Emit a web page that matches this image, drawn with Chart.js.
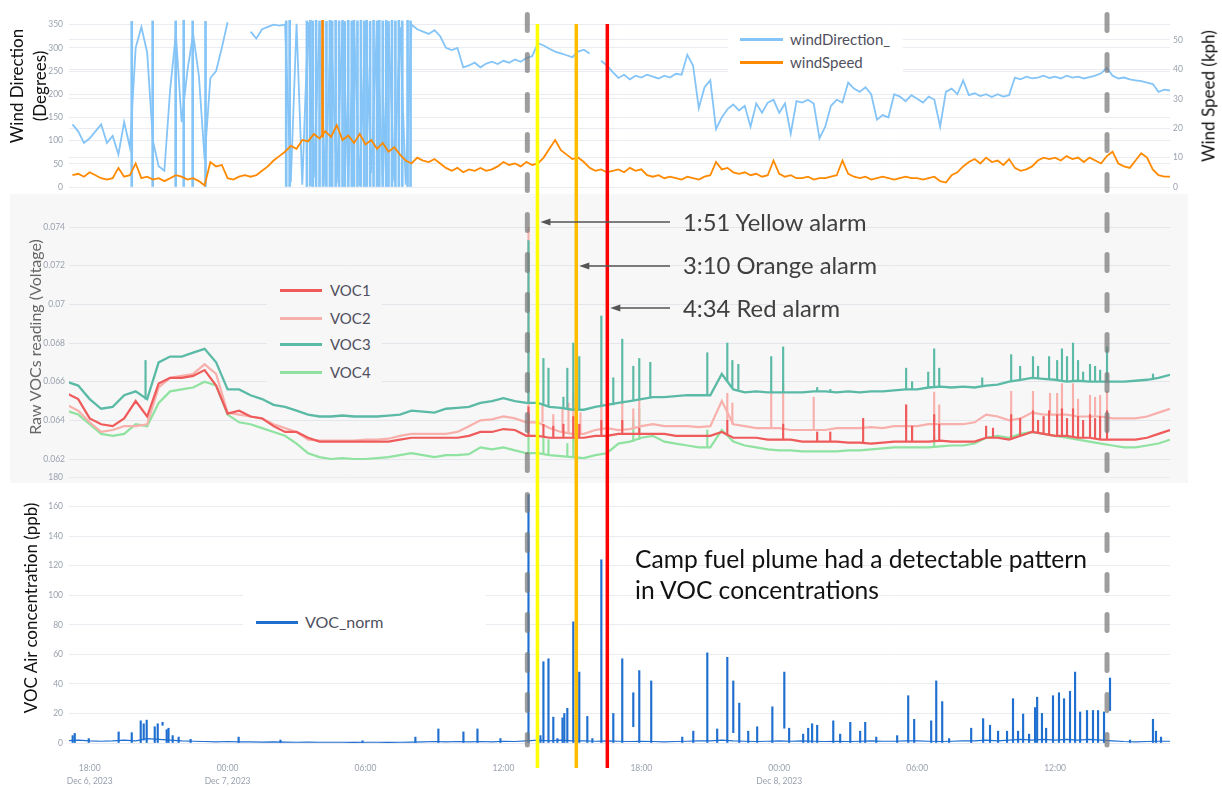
<!DOCTYPE html>
<html><head><meta charset="utf-8">
<script src="https://cdn.jsdelivr.net/npm/chart.js@4.4.1/dist/chart.umd.min.js"></script>
<style>
html,body{margin:0;padding:0;background:#fff;}
#wrap{position:relative;width:1222px;height:788px;overflow:hidden;font-family:Lato,'Open Sans',sans-serif;}
canvas{position:absolute;left:0;top:0;}
.panel{position:absolute;left:10px;top:194px;width:1178px;height:289px;background:#f7f7f8;}
.box{position:absolute;}
.t{position:absolute;white-space:nowrap;line-height:1;}
.rot{transform:translate(-50%,-50%) rotate(-90deg);text-align:center;}
.sw{position:absolute;height:3px;}
.lg{position:absolute;white-space:nowrap;font-size:15px;line-height:18px;color:#50505e;}
.ann{position:absolute;white-space:nowrap;font-size:23.8px;line-height:1;color:#404040;}
</style></head>
<body><div id="wrap">
<div class="panel"></div>
<canvas id="c1" width="1222" height="788"></canvas>
<canvas id="c2" width="1222" height="788"></canvas>
<canvas id="c3" width="1222" height="788"></canvas>

<div class="box" style="left:728px;top:28px;width:175px;height:47px;background:#fff;"></div>
<div class="sw" style="left:740px;top:38px;width:43px;background:#85c4f7;"></div>
<div class="lg" style="left:790px;top:30px;">windDirection_</div>
<div class="sw" style="left:740px;top:61px;width:43px;background:#ff8a00;"></div>
<div class="lg" style="left:790px;top:53px;">windSpeed</div>

<div class="box" style="left:267px;top:280px;width:115px;height:104px;background:#f7f7f8;"></div>
<div class="sw" style="left:280px;top:289px;width:42px;background:#ef5a5a;"></div>
<div class="lg" style="left:330px;top:281px;">VOC1</div>
<div class="sw" style="left:280px;top:317px;width:42px;background:#f7b0ab;"></div>
<div class="lg" style="left:330px;top:309px;">VOC2</div>
<div class="sw" style="left:280px;top:343px;width:42px;background:#5bbaa5;"></div>
<div class="lg" style="left:330px;top:335px;">VOC3</div>
<div class="sw" style="left:280px;top:371px;width:42px;background:#90e2a0;"></div>
<div class="lg" style="left:330px;top:363px;">VOC4</div>

<div class="box" style="left:243px;top:590px;width:243px;height:48px;background:#fff;"></div>
<div class="sw" style="left:256px;top:621px;width:42px;background:#1f6fd0;"></div>
<div class="lg" style="left:305px;top:613px;font-size:16px;">VOC_norm</div>

<div class="t rot" style="left:28px;top:86px;font-size:17px;line-height:23px;color:#111;">Wind Direction<br>(Degrees)</div>
<div class="t rot" style="left:1208px;top:96px;font-size:17px;color:#111;">Wind Speed (kph)</div>
<div class="t rot" style="left:35px;top:337px;font-size:16px;color:#666;">Raw VOCs reading (Voltage)</div>
<div class="t rot" style="left:30px;top:608px;font-size:17px;color:#111;">VOC Air concentration (ppb)</div>

<div class="ann" style="left:683px;top:211px;">1:51 Yellow alarm</div>
<div class="ann" style="left:683px;top:254px;">3:10 Orange alarm</div>
<div class="ann" style="left:683px;top:297px;">4:34 Red alarm</div>
<div class="ann" style="left:635px;top:543px;font-size:24.6px;line-height:31px;color:#111;">Camp fuel plume had a detectable pattern<br>in VOC concentrations</div>
</div>
<script>
// ---------- time axis (hours since Dec 6 2023 00:00) ----------
const X_MIN = 17.1, X_MAX = 65.0;
const TICK_HOURS = [18, 24, 30, 36, 42, 48, 54, 60];
const TICK_LABELS = [['18:00','Dec 6, 2023'], ['00:00','Dec 7, 2023'], '06:00', '12:00', '18:00', ['00:00','Dec 8, 2023'], '06:00', '12:00'];

// ---------- wind (every 15 min from 17:15 Dec 6) ----------
const WIND_START = 17.25, WIND_STEP = 0.25;
const windSpeed = [
 4,4.5,3.5,5,4,3,2.5,3,  6.5,3.5,4,8,3,3.5,2.5,3,  2,3,4,3.5,2.5,3,2,0.5,
 8.5,7,7.5,3,2.5,3.5,4,3.5,  4,5.5,7,9,10.5,12,14,13,  16,15.5,18,16.5,19,17,21,16,
 17.5,15,18,14.5,16,13,15,12,  13.5,11,9,8,10,9,8.5,9.5,  8,6.5,5.5,6.5,5,6,5.5,6.5,
 5.5,6,7,8.5,7.5,8,7,8.5,  7.5,8,10,13,16,12.5,11,9.5,  10,8.5,6.5,5.5,6,5,5.5,6,
 5,6.5,5.5,6,4,3.5,4,3,  3.5,3,2.5,3.5,3,2.5,3.5,4,  8.5,6,6.5,5,4.5,5,4,4.5,
 3.5,4,9,4.5,3.5,4,3,3,  3.5,2.5,3,3,3.5,4,9,4.5,  3.5,3,3.5,2.5,3,3.5,3,2.5,
 3,3.5,3,3,2.5,3,3.5,2,  1.5,4,5,7,8.5,9.5,8,10,  8.5,9,7.5,9.5,6.5,5.5,6,7,
 9,10,9.5,10,9,10.5,9.5,10,  8.5,10,9,8,10.5,12,8,7,  6.5,9,11.5,10,6,4,3.5,3.5
];
const windDirection = [
 135,120,95,105,120,135,95,110,  70,140,85,300,345,290,100,45,  35,210,330,140,250,330,240,60,
 235,250,300,355,null,358,null,335,  320,340,345,350,348,350,10,352,  5,355,20,350,3,354,8,356,
 15,348,2,355,30,352,6,350,  12,345,5,350,340,335,330,338,  325,300,295,300,258,262,268,258,
 266,270,265,272,268,275,270,278,  282,310,305,298,292,288,284,280,  292,296,288,null,272,262,248,235,
 242,232,240,236,242,238,234,240,  236,244,242,285,262,170,215,230,  125,150,168,178,165,175,130,180,
 160,182,188,160,180,115,185,182,  188,180,105,130,175,188,182,225,  212,205,215,200,145,155,150,200,
 195,185,198,190,182,195,188,130,  205,212,200,230,198,202,196,200,  194,200,195,198,236,232,238,234,
 236,240,235,238,234,240,236,238,  234,237,240,245,257,240,234,236,  232,230,228,225,222,205,210,208
];
// direction wrap-arounds 0<->360 : [hour, low, high]
const windDirWraps = [
 [19.83,0,357],[20.74,0,358],[21.74,0,358],[22.09,0,360],[22.48,0,358],[23.04,0,357],
 [26.55,0,358],[26.7,0,360],[27.45,0,358],[27.6,2,360],[27.7,0,358],[27.85,0,360],[28.0,0,358],
 [28.15,0,360],[28.3,0,357],[28.45,0,360],[28.55,0,358],[28.7,0,360],[28.85,0,358],[29.0,0,360],
 [29.1,0,357],[29.25,0,360],[29.4,0,358],[29.5,0,360],[29.65,0,358],[29.8,0,360],[29.95,0,358],
 [30.05,0,360],[30.2,0,357],[30.35,0,360],[30.5,0,358],[30.6,0,360],[30.75,0,358],[30.9,0,360],
 [31.0,0,357],[31.15,0,360],[31.3,0,358],[31.45,0,360],[31.6,0,358],[31.83,0,360],[31.96,0,358]
];
const windSpeedSpikes = [[28.13,17,56.8]];

// ---------- raw VOC voltages (every 30 min from 17:00 Dec 6) ----------
const VOC_START = 17, VOC_STEP = 0.5;
const voc1 = [
 0.0654,0.0651,0.0641,0.0638,0.0637,0.0641,0.0650,0.0642, 0.0659,0.0662,0.0662,0.0663,0.0666,0.0658,0.06435,0.0645,
 0.0642,0.0641,0.0637,0.0634,0.0634,0.0631,0.0629,0.0629, 0.0629,0.0629,0.0629,0.0629,0.0629,0.0630,0.0631,0.0631,
 0.0631,0.0631,0.0631,0.0632,0.0634,0.0634,0.06355,0.0635, 0.0632,0.0632,0.0631,0.0631,0.0631,0.0631,0.0632,0.0632,
 0.0633,0.0633,0.0633,0.0633,0.0633,0.0632,0.0632,0.0632, 0.0632,0.0634,0.0631,0.0631,0.0631,0.0630,0.0630,0.0630,
 0.0629,0.0629,0.0629,0.0629,0.06285,0.06285,0.0628,0.06285, 0.0629,0.0629,0.0629,0.0629,0.06295,0.0629,0.0629,0.0629,
 0.0631,0.0631,0.0630,0.0632,0.0634,0.0633,0.0632,0.0632, 0.0631,0.0631,0.0630,0.0630,0.0630,0.0630,0.0631,0.0633,
 0.0635
];
const voc2 = [
 0.0648,0.0645,0.0639,0.0634,0.0635,0.0637,0.0637,0.0638, 0.0657,0.0662,0.0663,0.0664,0.0669,0.0664,0.0644,0.0643,
 0.0642,0.0641,0.0638,0.0636,0.0634,0.0630,0.06295,0.06295, 0.06295,0.06295,0.0630,0.0630,0.06305,0.0632,0.0633,0.0633,
 0.0633,0.0633,0.0634,0.0637,0.0640,0.06405,0.0642,0.0641, 0.0639,0.0639,0.0636,0.0634,0.0633,0.0633,0.0635,0.0636,
 0.0635,0.06355,0.0637,0.0638,0.0637,0.0637,0.0637,0.06365, 0.0637,0.0650,0.0638,0.0637,0.0636,0.0636,0.0636,0.0635,
 0.0635,0.0635,0.0635,0.0636,0.0636,0.0636,0.06365,0.0636, 0.0637,0.0637,0.0637,0.0638,0.0638,0.0638,0.0638,0.0639,
 0.0643,0.0642,0.0640,0.0641,0.0644,0.0643,0.0643,0.0643, 0.0642,0.0642,0.0642,0.0641,0.0641,0.0641,0.0642,0.0644,
 0.0646
];
const voc3 = [
 0.0660,0.0658,0.0651,0.0646,0.0647,0.0653,0.0655,0.0651, 0.0670,0.0673,0.0673,0.0675,0.0677,0.0670,0.0656,0.0656,
 0.0653,0.0651,0.0648,0.0647,0.0645,0.0643,0.0642,0.0642, 0.06425,0.0642,0.0642,0.0642,0.06425,0.0643,0.0645,0.06445,
 0.0644,0.0646,0.06465,0.0647,0.0649,0.0650,0.06515,0.0650, 0.0649,0.0649,0.0647,0.06465,0.06455,0.06455,0.0647,0.0648,
 0.0649,0.0650,0.0651,0.0652,0.0652,0.06525,0.0653,0.0653, 0.0653,0.0664,0.0656,0.06545,0.0655,0.06545,0.06545,0.06545,
 0.06545,0.0655,0.0655,0.06545,0.0655,0.06545,0.0655,0.0655, 0.06555,0.0656,0.0656,0.0657,0.06575,0.0657,0.06575,0.0657,
 0.0658,0.06585,0.0660,0.0661,0.0662,0.06615,0.0661,0.0660, 0.06605,0.0660,0.0660,0.0660,0.0660,0.06605,0.0661,0.0662,
 0.06635
];
const voc4 = [
 0.0645,0.0643,0.0638,0.0633,0.0632,0.0633,0.0638,0.0637, 0.0649,0.0655,0.0656,0.0657,0.0660,0.0658,0.0643,0.0639,
 0.0638,0.0636,0.0634,0.0632,0.0628,0.0623,0.0621,0.0620, 0.06205,0.0620,0.0620,0.06205,0.0621,0.0622,0.0623,0.0622,
 0.0621,0.0622,0.0622,0.06225,0.0626,0.0625,0.0626,0.06245, 0.0623,0.0623,0.0622,0.06215,0.0621,0.06205,0.0622,0.0623,
 0.0628,0.0629,0.0631,0.0632,0.0629,0.0628,0.0627,0.0626, 0.0626,0.0635,0.0629,0.0627,0.0626,0.0625,0.06245,0.06245,
 0.0624,0.0624,0.0624,0.0624,0.06245,0.06245,0.0625,0.06255, 0.0626,0.0626,0.0626,0.0626,0.06265,0.0627,0.0627,0.0628,
 0.0631,0.0632,0.0631,0.0633,0.0634,0.0633,0.0632,0.0631, 0.0630,0.0629,0.0628,0.0627,0.0626,0.0626,0.0627,0.0628,
 0.0630
];
// short spikes: [hour, base, peak]
const voc1Spikes = [
 [37.09,0.0632,0.0647],[37.74,0.0632,0.0638],[38.17,0.0631,0.0637],[38.61,0.0631,0.0638],[39.04,0.0631,0.0642],
 [39.30,0.0631,0.0638],[40.26,0.0632,0.0640],[41.17,0.0633,0.0640],[41.91,0.0633,0.0636],[45.74,0.0633,0.0640],
 [48.17,0.0630,0.0638],[49.65,0.0629,0.0634],[50.22,0.0629,0.0634],[51.65,0.06285,0.0641],[53.52,0.0629,0.0648],
 [53.78,0.0629,0.0637],[54.74,0.0629,0.0643],[54.96,0.0629,0.0638],[57.0,0.0631,0.0637],[57.3,0.0631,0.0636],
 [58.09,0.0630,0.0643],[58.48,0.0632,0.0641],[59.04,0.0634,0.0645],[59.26,0.0634,0.0640],[59.5,0.0633,0.0642],
 [59.74,0.0633,0.0645],[60.09,0.0632,0.0643],[60.30,0.0632,0.0646],[60.52,0.0632,0.0641],[60.78,0.0632,0.0646],
 [61.00,0.0631,0.0642],[61.22,0.0631,0.0640],[61.52,0.0631,0.0643],[61.74,0.0631,0.0641],[61.96,0.0630,0.0642],
 [62.26,0.0630,0.0645]
];
const voc2Spikes = [
 [37.09,0.0639,0.0740],[37.70,0.0639,0.0648],[38.17,0.0636,0.0643],[38.57,0.0634,0.0646],[38.83,0.0634,0.0649],
 [39.04,0.0633,0.0654],[39.35,0.0633,0.0644],[40.26,0.0635,0.0649],[41.17,0.0635,0.0649],[41.65,0.0636,0.0646],
 [41.91,0.0637,0.0651],[45.74,0.0640,0.0654],[45.96,0.0638,0.0649],[47.65,0.0636,0.0654],[48.17,0.0636,0.0659],
 [49.5,0.0635,0.0652],[53.52,0.0637,0.0648],[54.74,0.0638,0.06546],[54.96,0.0638,0.0648],[58.09,0.0640,0.0655],
 [59.04,0.0644,0.0655],[59.78,0.0643,0.0654],[60.09,0.0643,0.0654],[60.30,0.0643,0.0659],[60.78,0.0643,0.0659],
 [61.00,0.0642,0.0651],[61.52,0.0642,0.0653],[61.74,0.0642,0.0652],[61.96,0.0642,0.0653],[62.26,0.0641,0.0655]
];
const voc3Spikes = [
 [20.43,0.0651,0.0671],[37.09,0.0649,0.0733],[37.74,0.0648,0.0672],[37.96,0.0647,0.0667],[38.61,0.06465,0.0652],
 [38.78,0.06465,0.0667],[39.04,0.06455,0.0680],[39.30,0.06455,0.0673],[40.26,0.0647,0.0694],[40.78,0.0648,0.0662],
 [41.17,0.0649,0.0682],[41.65,0.0650,0.0668],[41.91,0.0651,0.0672],[42.39,0.0652,0.0670],[44.87,0.0653,0.0675],
 [45.74,0.0660,0.0680],[45.96,0.0657,0.0671],[46.22,0.0656,0.0669],[47.65,0.06545,0.0673],[48.17,0.06545,0.0678],
 [49.65,0.0655,0.0657],[50.22,0.0655,0.0656],[53.52,0.0656,0.0667],[53.78,0.0656,0.0660],[54.48,0.0657,0.0665],
 [54.74,0.0657,0.0677],[54.96,0.06575,0.0667],[56.83,0.0658,0.0662],[58.09,0.0660,0.0674],[58.48,0.0661,0.0668],
 [59.04,0.0662,0.0673],[59.26,0.0662,0.0668],[59.74,0.06615,0.0673],[60.09,0.0661,0.0671],[60.30,0.0661,0.0677],
 [60.52,0.0660,0.0673],[60.78,0.0660,0.0680],[61.00,0.06605,0.0671],[61.22,0.06605,0.0665],[61.52,0.0660,0.0669],
 [61.74,0.0660,0.0668],[61.96,0.0660,0.0666],[62.26,0.0660,0.0678],[64.26,0.0661,0.0664]
];
const voc4Spikes = [
 [37.09,0.0623,0.0635],[37.74,0.0623,0.0632],[37.96,0.0622,0.0630],[38.78,0.06215,0.0628],[39.04,0.0621,0.0635],
 [41.65,0.0629,0.0641],[41.91,0.0630,0.0646],[44.87,0.0626,0.0635],[54.74,0.0626,0.0632]
];

// ---------- VOC_norm (ppb) ----------
const vocNormBase = [
 1.5,2,1.5,1.2,1.5,2,1.5,3, 2.5,2,1.5,1.2,1,0.8,1,0.8, 0.8,0.6,0.8,0.6,0.5,0.6,0.5,0.5,
 0.5,0.4,0.5,0.5,0.4,0.5,0.6,0.8, 1,0.8,1,0.8,1,0.8,1.2,1, 1.5,2,1.5,2,1.5,1.5,1.2,1.5,
 1.2,1,1.2,1,0.8,1,1.2,1.5, 1.5,2,1.5,1.2,1,1.2,1.5,1.2, 1.5,1.2,1,1.2,1,1.2,1.5,1.2,
 1.2,1.5,1.5,1.2,1,1.2,1.5,1.5, 2,1.5,2,2.5,2,2.5,2,2.5, 2,2.5,2,1.5,1,0.8,1,1.2,
 1.2
];
const vocNormSpikes = [
 [17.26,0,5],[17.35,0,6.5],[17.96,0,3],[19.26,0,7.5],[19.83,0,7],[20.22,0,15],[20.35,2,13],[20.48,0,15.5],
 [20.83,0,11],[20.96,0,13],[21.17,12,14],[21.35,0,9],[21.43,0,10],[21.61,0,5],[21.87,0,4],[22.39,0,2.5],
 [24.48,0,4],[26.3,0,2],[29.87,0,1.5],[32.17,0,4],[33.17,0,9.5],[34.26,0,7.5],[34.87,0,9.5],[35.87,0,3],
 [37.09,0,168],[37.61,0,5],[37.74,0,55],[37.96,0,57],[38.17,0,17.5],[38.35,0,3],[38.57,0,17],[38.65,0,20],
 [38.78,0,23.5],[39.04,0,82],[39.30,0,48],[39.65,0,18],[39.87,0,3],[40.26,0,124],[40.78,0,20],[41.17,0,57],
 [41.65,11,34],[41.91,0,49],[42.43,0,42],[43.78,0,4],[44.26,0,8],[44.87,0,61],[45.30,0,9.5],[45.74,0,58],
 [46.00,7,42],[46.26,0,27],[46.65,0,8],[47.04,0,11],[47.70,0,24.5],[48.22,10,48],[48.43,0,10],[49.04,0,6],
 [49.26,0,10],[49.43,0,13],[49.65,0,12],[50.35,0,15],[50.65,0,6],[51.09,0,14],[51.52,0,8],[51.74,0,14],
 [52.22,0,4],[53.13,0,5],[53.61,0,32],[53.87,0,16],[54.61,0,15],[54.83,0,42],[55.09,0,28],[55.39,0,3],
 [56.35,0,10],[56.87,0,16.5],[57.17,0,12],[57.52,0,8],[57.91,0,8],[58.17,0,30],[58.39,0,8],[58.61,0,19.6],
 [58.87,0,6],[59.13,0,24],[59.22,0,31],[59.43,0,20],[59.61,0,10],[59.91,0,32],[60.17,0,34],[60.39,0,30],
 [60.65,0,35],[60.87,0,48],[61.09,0,21],[61.39,0,22],[61.65,0,22],[61.87,0,22],[62.13,0,21],[62.39,22,44],
 [63.26,0,2],[64.26,0,16],[64.39,0,8],[64.61,0,4]
];

// ---------- event markers ----------
const MARKER_TIMES = [37.04, 37.48, 39.17, 40.52, 62.26];
const MARKER_KINDS = ['event', 'yellow', 'orange', 'red', 'event'];
const ALARM_MARKERS = [1, 2, 3];

// ---------- styles ----------
const MARKER_STYLE = {
  event:  {color:'rgba(120,120,120,0.72)', width:5, dash:[16,24], cap:'round', y0:14.5, y1:745},
  yellow: {color:'#ffff00', width:3.5, dash:[], cap:'butt', y0:24, y1:768},
  orange: {color:'#ffbd00', width:3.5, dash:[], cap:'butt', y0:24, y1:768},
  red:    {color:'#ff0000', width:3.5, dash:[], cap:'butt', y0:24, y1:768}
};
const ARROW_Y = [222, 266, 308];
const ARROW_TAIL_X = 670;

const grid = (start, step, n) => Array.from({length:n}, (_, i) => +(start + step * i).toFixed(3));
const WIND_T = grid(WIND_START, WIND_STEP, windSpeed.length);
const VOC_T = grid(VOC_START, VOC_STEP, voc1.length);
const pts = (ts, vs) => ts.map((t, i) => ({x:t, y:vs[i]}));
const bars = arr => arr.map(s => ({x:s[0], y:[s[1], s[2]]}));

Chart.defaults.font.family = "Lato, 'Open Sans', sans-serif";
Chart.defaults.font.size = 8.5;
Chart.defaults.color = '#9aa1ae';
Chart.defaults.animation = false;
Chart.defaults.plugins.legend.display = false;
Chart.defaults.plugins.tooltip.enabled = false;
Chart.defaults.elements.point.radius = 0;

const hiddenX = {type:'linear', min:X_MIN, max:X_MAX, display:false, offset:false, grid:{offset:false}};
const GRID = '#eaecf2';
const lineDs = (data, color, w, axis) => ({type:'line', data, borderColor:color, borderWidth:w, pointRadius:0, spanGaps:false, yAxisID:axis, tension:0});
const barDs = (data, color, w, axis) => ({type:'bar', data, backgroundColor:color, borderWidth:0, barThickness:w, grouped:false, yAxisID:axis});

const BLUE = '#85c4f7', ORANGE = '#ff8a00';
new Chart(document.getElementById('c1'), {
  type:'line',
  data:{datasets:[
    lineDs(pts(WIND_T, windSpeed), ORANGE, 1.8, 'y1'),
    barDs(bars(windSpeedSpikes), ORANGE, 2, 'y1'),
    barDs(bars(windDirWraps), BLUE, 2, 'y'),
    lineDs(pts(WIND_T, windDirection), BLUE, 1.8, 'y')
  ]},
  options:{responsive:false, devicePixelRatio:1,
    layout:{padding:{top:20, bottom:601, left:0, right:0}},
    scales:{
      x: hiddenX,
      y: {position:'left', min:0, max:360, afterFit:s=>{s.width=69;},
          ticks:{stepSize:50, padding:6, includeBounds:false}, grid:{color:GRID, drawTicks:false}, border:{display:false}},
      y1:{position:'right', min:0, max:56.8, afterFit:s=>{s.width=52;},
          ticks:{stepSize:10, padding:3, includeBounds:false}, grid:{color:GRID, drawTicks:false}, border:{display:false}}
    }}
});

const C1 = '#ef5a5a', C2 = '#f7b0ab', C3 = '#5bbaa5', C4 = '#90e2a0';
new Chart(document.getElementById('c2'), {
  type:'line',
  data:{datasets:[
    lineDs(pts(VOC_T, voc3), C3, 2.3, 'y'), barDs(bars(voc3Spikes), C3, 1.5, 'y'),
    lineDs(pts(VOC_T, voc1), C1, 2.2, 'y'), barDs(bars(voc1Spikes), C1, 1.5, 'y'),
    lineDs(pts(VOC_T, voc2), C2, 2.2, 'y'), barDs(bars(voc2Spikes), C2, 1.5, 'y'),
    lineDs(pts(VOC_T, voc4), C4, 2.2, 'y'), barDs(bars(voc4Spikes), C4, 1.5, 'y')
  ]},
  options:{responsive:false, devicePixelRatio:1,
    layout:{padding:{top:200, bottom:317, left:0, right:52}},
    scales:{
      x: hiddenX,
      y: {position:'left', min:0.06138, max:0.0754, afterFit:s=>{s.width=69;},
          ticks:{stepSize:0.002, padding:4, includeBounds:false, callback:v=>String(+v.toFixed(3))},
          grid:{color:'#e4e6ec', drawTicks:false}, border:{display:false}}
    }}
});

const vlines = {
  id:'vlines',
  afterDraw(chart){
    const ctx = chart.ctx, xs = chart.scales.x;
    ctx.save();
    MARKER_TIMES.forEach((t, i) => {
      const st = MARKER_STYLE[MARKER_KINDS[i]];
      const px = xs.getPixelForValue(t);
      ctx.strokeStyle = st.color; ctx.lineWidth = st.width; ctx.lineCap = st.cap;
      ctx.setLineDash(st.dash);
      ctx.beginPath(); ctx.moveTo(px, st.y0); ctx.lineTo(px, st.y1); ctx.stroke();
    });
    ctx.setLineDash([]); ctx.lineCap = 'butt';
    ALARM_MARKERS.forEach((m, i) => {
      const tip = xs.getPixelForValue(MARKER_TIMES[m]) + 3, y = ARROW_Y[i];
      ctx.strokeStyle = '#555'; ctx.lineWidth = 1.4;
      ctx.beginPath(); ctx.moveTo(ARROW_TAIL_X, y); ctx.lineTo(tip + 6, y); ctx.stroke();
      ctx.fillStyle = '#555';
      ctx.beginPath(); ctx.moveTo(tip, y); ctx.lineTo(tip + 10, y - 3.5); ctx.lineTo(tip + 10, y + 3.5); ctx.closePath(); ctx.fill();
    });
    ctx.restore();
  }
};

const NBLUE = '#1f6fd0';
new Chart(document.getElementById('c3'), {
  type:'line',
  data:{datasets:[
    lineDs(pts(VOC_T, vocNormBase), NBLUE, 1.2, 'y'),
    barDs(bars(vocNormSpikes), NBLUE, 1.5, 'y')
  ]},
  options:{responsive:false, devicePixelRatio:1,
    layout:{padding:{top:477, bottom:0, left:0, right:52}},
    scales:{
      x: {type:'linear', min:X_MIN, max:X_MAX, offset:false,
          afterBuildTicks:s=>{ s.ticks = TICK_HOURS.map(v => ({value:v})); },
          afterFit:s=>{ s.height = 45; },
          grid:{display:false, drawTicks:false, offset:false}, border:{display:false},
          ticks:{padding:19, maxRotation:0, autoSkip:false, font:{size:8.5, lineHeight:1.5},
                 callback:(v, i) => TICK_LABELS[i]}},
      y: {position:'left', min:0, max:180, afterFit:s=>{s.width=69;},
          ticks:{stepSize:20, padding:6}, grid:{color:GRID, drawTicks:false}, border:{display:false}}
    }},
  plugins:[vlines]
});
</script>
</body></html>
